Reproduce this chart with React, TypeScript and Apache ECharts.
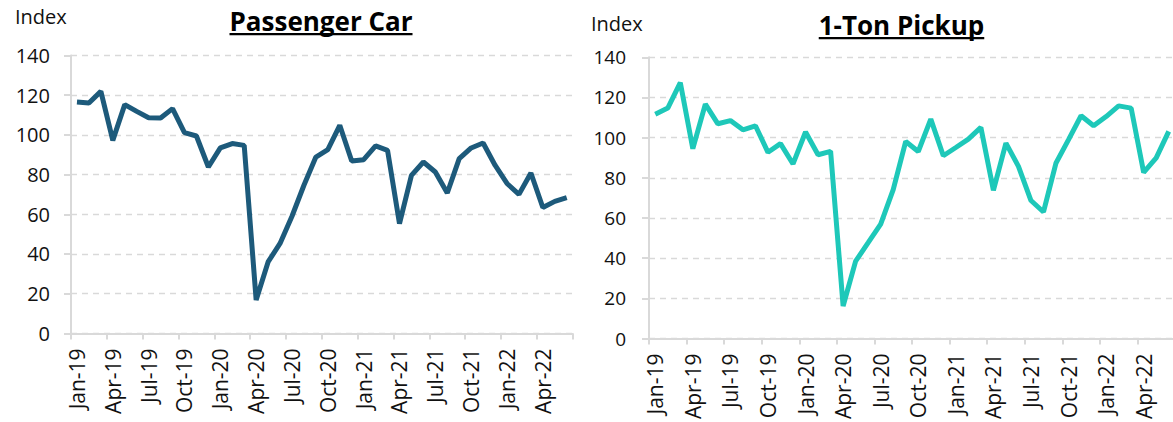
import React, { useEffect, useRef } from "react";
import * as echarts from "echarts";

const months = [
  "Jan-19", "Feb-19", "Mar-19", "Apr-19", "May-19", "Jun-19", "Jul-19", "Aug-19", "Sep-19", "Oct-19", "Nov-19", "Dec-19",
  "Jan-20", "Feb-20", "Mar-20", "Apr-20", "May-20", "Jun-20", "Jul-20", "Aug-20", "Sep-20", "Oct-20", "Nov-20", "Dec-20",
  "Jan-21", "Feb-21", "Mar-21", "Apr-21", "May-21", "Jun-21", "Jul-21", "Aug-21", "Sep-21", "Oct-21", "Nov-21", "Dec-21",
  "Jan-22", "Feb-22", "Mar-22", "Apr-22", "May-22", "Jun-22",
];

const passengerCar = [
  116.5, 116, 121.9, 97.2, 115.2, 111.8, 108.6, 108.5, 113.2, 101.1, 99.4, 83.8,
  93.4, 95.6, 94.7, 16.8, 36, 45.3, 59, 74.6, 88.8, 92.5, 104.8, 86.8,
  87.5, 94.4, 92.2, 55.3, 79.6, 86.3, 81.3, 70.7, 88, 93.4, 95.9, 84.7,
  75.5, 70, 80.8, 63.4, 66.5, 68.4,
];

const pickup = [
  111.7, 114.7, 127.4, 94.5, 116.7, 106.9, 108.5, 103.9, 105.9, 92.7, 97, 86.9,
  102.8, 91.5, 93.2, 16.2, 38.5, 47.7, 57, 74.1, 98.1, 93.1, 109.2, 91,
  95.1, 99.3, 105.1, 73.8, 97.3, 85.7, 68.7, 63, 87.4, 99, 110.9, 105.9,
  110.5, 115.8, 114.7, 82.7, 89.9, 103.1,
];

const titles = ["Passenger Car", "1-Ton Pickup"];
const yUnit = "Index";

const FONT = '"Open Sans", "Noto Sans", sans-serif';
const TEXT = "#111111";
const GRIDC = "#d9d9d9";

function measure(text: string, font: string) {
  const ctx = document.createElement("canvas").getContext("2d")!;
  ctx.font = font;
  return ctx.measureText(text).width;
}

export default function App() {
  const ref = useRef<HTMLDivElement>(null);
  useEffect(() => {
    if (!ref.current) return;
    const chart = echarts.init(ref.current, undefined, { renderer: "svg" });
    const titleFont = `bold 26px ${FONT}`;
    const grids = [
      { left: 71, top: 55.4, width: 501.7, height: 278 },
      { left: 649, top: 57.3, width: 526, height: 282 },
    ];
    const mkX = (i: number) => ({
      type: "category",
      gridIndex: i,
      data: months,
      boundaryGap: true,
      axisLine: { lineStyle: { color: GRIDC, width: 2 } },
      axisTick: { show: true, interval: 2, length: 6, lineStyle: { color: GRIDC, width: 2 } },
      axisLabel: {
        interval: 2,
        rotate: 90,
        margin: 15,
        fontSize: 21,
        fontFamily: FONT,
        color: TEXT,
      },
      splitLine: { show: false },
    });
    const mkY = (i: number) => ({
      type: "value",
      gridIndex: i,
      min: 0,
      max: 140,
      interval: 20,
      axisLine: { show: true, lineStyle: { color: GRIDC, width: 2 } },
      axisTick: { show: true, length: 7, lineStyle: { color: GRIDC, width: 2 } },
      axisLabel: { margin: i === 0 ? 21 : 23, fontSize: i === 0 ? 20 : 19, fontFamily: FONT, color: TEXT },
      splitLine: { show: true, lineStyle: { color: GRIDC, type: [6, 5], width: 1.3 } },
    });
    const titleGraphics: any[] = [];
    const tpos = [
      { cx: 321, cy: 21, uy: 33 },
      { cx: 901.5, cy: 25, uy: 37 },
    ];
    titles.forEach((t, i) => {
      const w = measure(t, titleFont);
      titleGraphics.push({
        type: "text",
        x: tpos[i].cx,
        y: tpos[i].cy,
        style: { text: t, font: titleFont, fill: "#000", textAlign: "center", textVerticalAlign: "middle" },
      });
      titleGraphics.push({
        type: "rect",
        shape: { x: tpos[i].cx - w / 2, y: tpos[i].uy, width: w, height: 2.2 },
        style: { fill: "#000" },
      });
    });
    chart.setOption({
      animation: false,
      backgroundColor: "#ffffff",
      grid: grids,
      xAxis: [mkX(0), mkX(1)],
      yAxis: [mkY(0), mkY(1)],
      series: [
        {
          type: "line",
          xAxisIndex: 0,
          yAxisIndex: 0,
          data: passengerCar,
          symbol: "none",
          lineStyle: { color: "#1d5a7b", width: 5 },
        },
        {
          type: "line",
          xAxisIndex: 1,
          yAxisIndex: 1,
          data: pickup,
          symbol: "none",
          lineStyle: { color: "#1ec8b9", width: 5 },
        },
      ],
      graphic: [
        {
          type: "text",
          x: 15,
          y: 16,
          style: { text: yUnit, font: `20px ${FONT}`, fill: TEXT, textVerticalAlign: "middle" },
        },
        {
          type: "text",
          x: 591,
          y: 23,
          style: { text: yUnit, font: `20px ${FONT}`, fill: TEXT, textVerticalAlign: "middle" },
        },
        ...titleGraphics,
      ],
    });
    return () => chart.dispose();
  }, []);
  return (
    <div
      style={{
        position: "fixed",
        left: 0,
        top: 0,
        width: 1173,
        height: 422,
        overflow: "hidden",
        background: "#fff",
      }}
    >
      <div ref={ref} style={{ width: 1190, height: 422 }} />
    </div>
  );
}
